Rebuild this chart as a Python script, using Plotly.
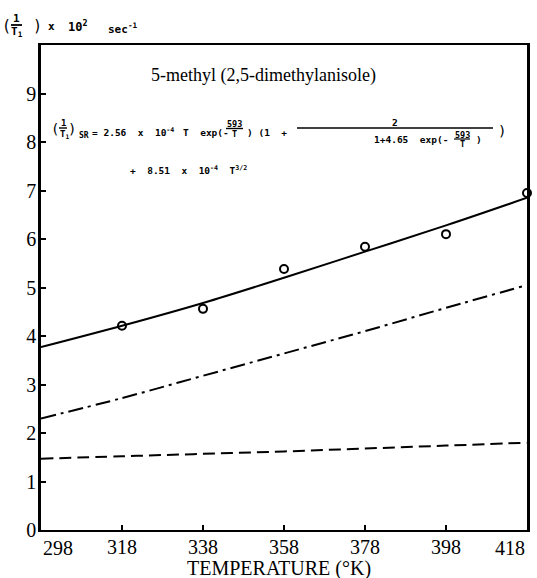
import plotly.graph_objects as go

# ---------------- data ----------------
temps = [298, 318, 338, 358, 378, 398, 418]
total_fit = [3.77, 4.21, 4.68, 5.20, 5.74, 6.28, 6.85]      # solid line
sr_part = [2.30, 2.72, 3.18, 3.64, 4.10, 4.58, 5.05]        # dash-dot line
t32_part = [1.47, 1.52, 1.57, 1.62, 1.68, 1.74, 1.80]       # dashed line
obs_temps = [318, 338, 358, 378, 398, 418]
obs_rate = [4.21, 4.56, 5.38, 5.84, 6.10, 6.95]
x_tick_vals = [318, 338, 358, 378, 398]
x_end_labels = [298, 418]
y_tick_vals = [0, 1, 2, 3, 4, 5, 6, 7, 8, 9]

# ---------------- layout constants ----------------
W, H = 537, 578
L, R, T, B = 41, 10, 45, 48
PW, PH = W - L - R, H - T - B
SERIF = "Liberation Serif"
MONO = "DejaVu Sans Mono"


def px(x):
    return (x - L) / PW


def py(y):
    return (H - B - y) / PH


fig = go.Figure()

fig.add_trace(go.Scatter(x=temps, y=total_fit, mode="lines",
                         line=dict(color="black", width=2, shape="spline"),
                         showlegend=False, hoverinfo="skip"))
fig.add_trace(go.Scatter(x=temps, y=sr_part, mode="lines",
                         line=dict(color="black", width=2, shape="spline",
                                   dash="15px,5px,3px,5px"),
                         showlegend=False, hoverinfo="skip"))
fig.add_trace(go.Scatter(x=temps, y=t32_part, mode="lines",
                         line=dict(color="black", width=2, shape="spline",
                                   dash="12px,6px"),
                         showlegend=False, hoverinfo="skip"))
fig.add_trace(go.Scatter(x=obs_temps, y=obs_rate, mode="markers",
                         marker=dict(symbol="circle-open", size=8, color="black",
                                     line=dict(width=2, color="black")),
                         cliponaxis=False, showlegend=False, hoverinfo="skip"))

annotations = []
shapes = []


def txt(text, x, y, size=9, family=MONO, xanchor="left", yanchor="middle"):
    annotations.append(dict(text=text, x=px(x), y=py(y), xref="paper", yref="paper",
                            xanchor=xanchor, yanchor=yanchor, showarrow=False,
                            font=dict(family=family, size=size, color="black")))


def bar(x0, x1, y, w=1.5):
    shapes.append(dict(type="line", xref="paper", yref="paper",
                       x0=px(x0), x1=px(x1), y0=py(y), y1=py(y),
                       line=dict(color="black", width=w)))


# end tick labels on the x axis (aligned inside the frame like the original)
annotations.append(dict(text=str(x_end_labels[0]), x=x_end_labels[0], y=0, xref="x", yref="paper",
                        xanchor="left", yanchor="top", yshift=-5, showarrow=False,
                        font=dict(family=SERIF, size=20, color="black")))
annotations.append(dict(text=str(x_end_labels[1]), x=x_end_labels[1], y=0, xref="x", yref="paper",
                        xanchor="right", yanchor="top", yshift=-5, showarrow=False,
                        font=dict(family=SERIF, size=20, color="black")))

# x-axis title
annotations.append(dict(text="TEMPERATURE (°K)", x=(279 - L) / PW, y=0, xref="paper", yref="paper",
                        xanchor="center", yanchor="top", yshift=-25, showarrow=False,
                        font=dict(family=SERIF, size=20, color="black")))

# title inside plot
txt("5-methyl (2,5-dimethylanisole)", 263, 75, size=18, family=SERIF, xanchor="center")

# y-axis label (top-left)
txt("(", 6, 26, size=15, xanchor="center")
txt("<b>1</b>", 16, 19, size=11, xanchor="center")
bar(11, 22, 25, 1.8)
txt("<b>T<sub>1</sub></b>", 17, 32, size=11, xanchor="center")
txt(")", 37, 26, size=15, xanchor="center")
txt("<b>x</b>", 51, 27, size=11, xanchor="center")
txt("<b>10<sup>2</sup></b>", 66, 26, size=12)
txt("<b>sec<sup>-1</sup></b>", 106, 29, size=11)

# formula line 1
txt("(", 55, 129, size=14, xanchor="center")
txt("<b>1</b>", 63, 123, size=9, xanchor="center")
bar(59, 67, 128, 1.4)
txt("<b>T<sub>1</sub></b>", 64, 134, size=9, xanchor="center")
txt(")", 72, 129, size=14, xanchor="center")
txt("<b>SR</b>", 77, 135, size=8)
txt("<b>= 2.56  x  10<sup>-4</sup></b>", 90, 132, size=9.5)
txt("<b>T  exp(-</b>", 181, 132, size=9.5)
txt("<b>593</b>", 234, 124, size=8.5, xanchor="center")
bar(226, 243, 128.5, 1.4)
txt("<b>T</b>", 234, 134, size=8.5, xanchor="center")
txt("<b>) (1  +</b>", 245, 132, size=9.5)
bar(297, 493, 128, 1.4)
txt("<b>2</b>", 395, 122, size=9.5, xanchor="center")
txt("<b>1+4.65  exp(-</b>", 372, 139, size=9.5)
txt("<b>593</b>", 462, 135, size=8.5, xanchor="center")
bar(454, 470, 139, 1.2)
txt("<b>T</b>", 462, 144, size=8.5, xanchor="center")
txt("<b>)</b>", 474, 139, size=9.5)
txt(")", 502, 131, size=14, xanchor="center")

# formula line 2
txt("<b>+  8.51  x  10<sup>-4</sup>  T<sup>3/2</sup></b>", 128, 170, size=9.5)

fig.update_layout(
    width=W, height=H,
    margin=dict(l=L, r=R, t=T, b=B),
    paper_bgcolor="white", plot_bgcolor="white",
    showlegend=False,
    annotations=annotations,
    shapes=shapes,
    xaxis=dict(range=[298, 418], tickmode="array", tickvals=x_tick_vals,
               ticktext=[str(v) for v in x_tick_vals], automargin=False,
               ticks="inside", ticklen=5, tickwidth=1.5, tickcolor="black",
               showline=True, linecolor="black", linewidth=2, mirror=True,
               showgrid=False, zeroline=False, ticklabelstandoff=-2,
               tickfont=dict(family=SERIF, size=20, color="black")),
    yaxis=dict(range=[0, 10], tickmode="array", tickvals=y_tick_vals,
               ticktext=[str(v) for v in y_tick_vals], automargin=False,
               ticks="inside", ticklen=5, tickwidth=1.5, tickcolor="black",
               showline=True, linecolor="black", linewidth=2.5, mirror=True,
               showgrid=False, zeroline=False, ticklabelstandoff=-2,
               tickfont=dict(family=SERIF, size=20, color="black")),
)

fig.write_html("out.html")
